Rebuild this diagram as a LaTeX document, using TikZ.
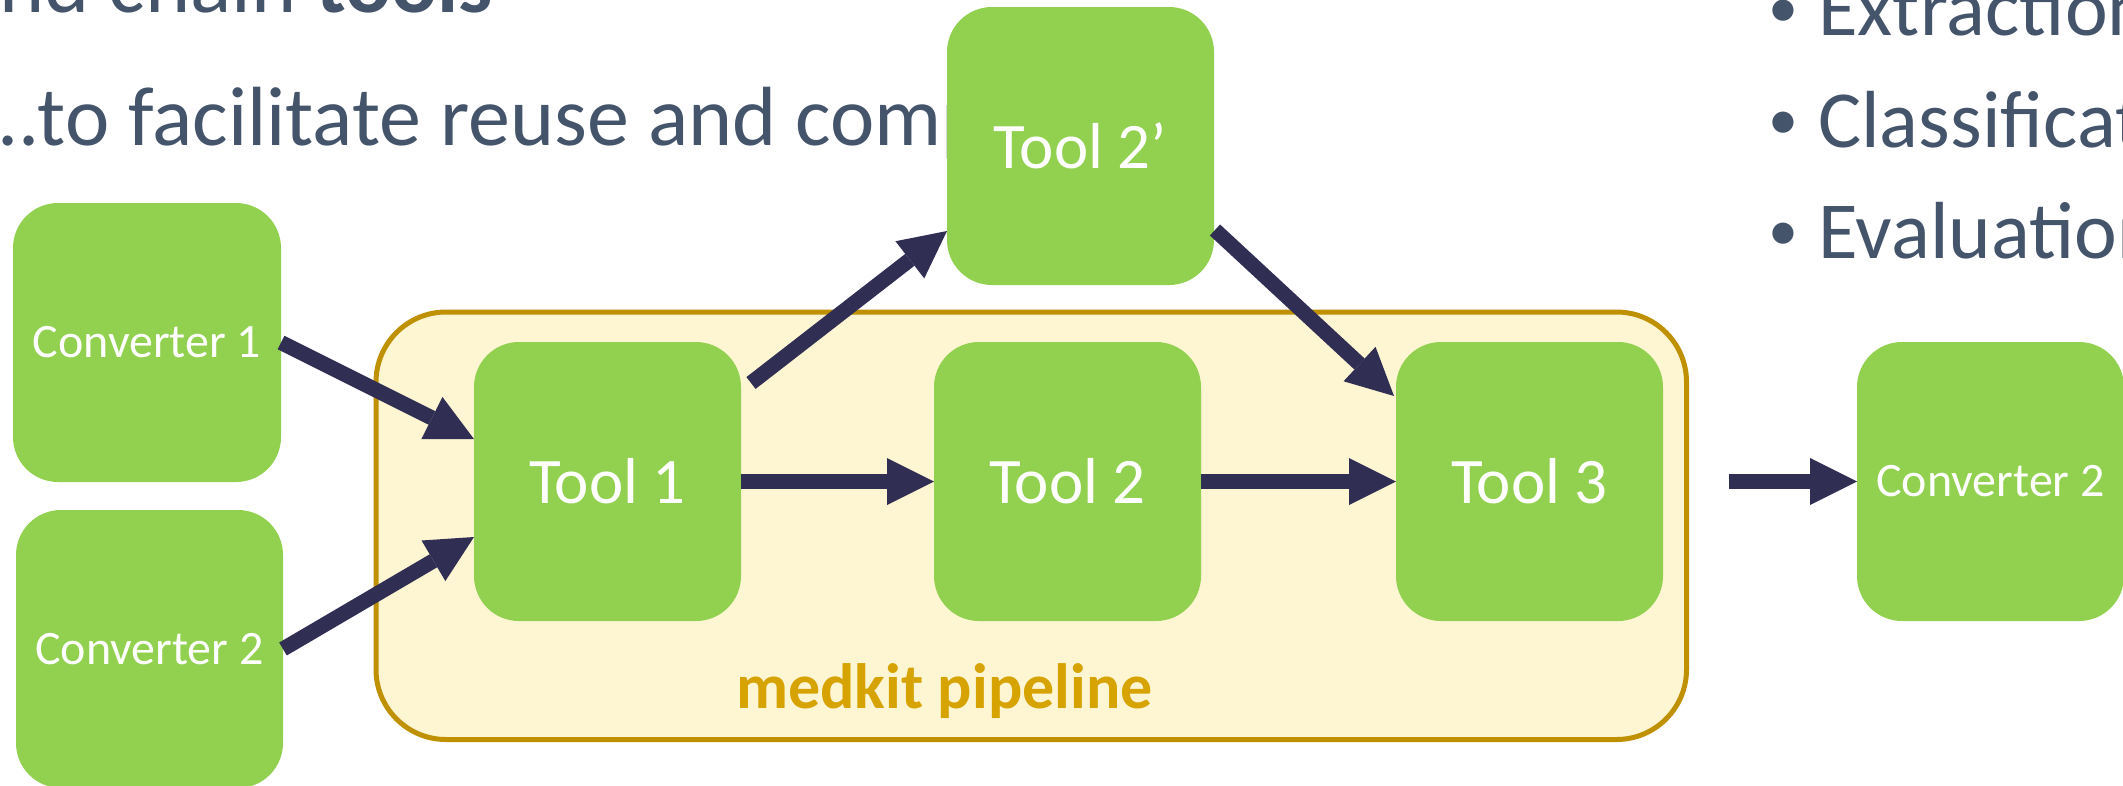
\documentclass[tikz,border=0pt]{standalone}
\usepackage{fontspec}
\setmainfont{Carlito}
\usetikzlibrary{arrows.meta,calc}
\definecolor{textblue}{HTML}{44546A}
\definecolor{boxgreen}{HTML}{92D050}
\definecolor{navy}{HTML}{312E54}
\definecolor{pipefill}{HTML}{FEF5D3}
\definecolor{pipeborder}{HTML}{BF9000}
\definecolor{pipelabel}{HTML}{D6A300}
\begin{document}
\begin{tikzpicture}[x=1pt,y=-1pt,
  bigtext/.style={anchor=base west,inner sep=0pt,text=textblue,font=\fontsize{81pt}{97pt}\selectfont},
  bullet/.style={anchor=base,inner sep=0pt,text=textblue,font=\fontsize{60pt}{72pt}\selectfont},
  gbox/.style={fill=boxgreen,draw=none,rounded corners=45pt,minimum width=267pt,minimum height=279pt,inner sep=0pt,outer sep=0pt,text=white},
  toolbox/.style={gbox,font=\fontsize{65pt}{78pt}\selectfont},
  convbox/.style={gbox,font=\fontsize{48pt}{58pt}\selectfont},
  container/.style={fill=pipefill,draw=pipeborder,line width=5pt,rounded corners=70pt,inner sep=0pt,outer sep=0pt},
  flow/.style={draw=navy,line width=15pt,-{Triangle[length=47pt,width=47pt,line width=0pt]}}]
\useasboundingbox (0,0) rectangle (2123,785);
\clip (0,0) rectangle (2123,785);
\fill[white] (0,0) rectangle (2123,785);

% background text
\node[bigtext,font=\fontsize{86pt}{103pt}\selectfont] (title) at (-1,12) {nd chain \textbf{tools}};
\node[bigtext,font=\fontsize{84pt}{100pt}\selectfont] (sub) at (-3,145) {..to facilitate reuse and composition};
\node[bullet] (b1) at (1783,27) {•};
\node[bigtext] (l1) at (1818,35) {Extraction};
\node[bullet] (b2) at (1783,139) {•};
\node[bigtext] (l2) at (1818,147) {Classification};
\node[bullet] (b3) at (1783,250) {•};
\node[bigtext] (l3) at (1818,258) {Evaluation};

% pipeline container
\node[container,minimum width=1310.5pt,minimum height=427.5pt] (pipe) at (1031.25,525.75) {};
\node[anchor=base west,inner sep=0pt,text=pipelabel,font=\fontsize{64pt}{77pt}\selectfont\bfseries] (pipelabel) at (736,708) {medkit pipeline};

% boxes
\node[convbox,minimum width=268pt] (conv1) at (147,342.5) {Converter 1};
\node[convbox,minimum height=278pt] (conv2) at (149.5,649) {Converter 2};
\node[toolbox] (tool1) at (607.5,481.5) {Tool 1};
\node[toolbox] (tool2) at (1067.5,481.5) {Tool 2};
\node[toolbox] (tool3) at (1529.5,481.5) {Tool 3};
\node[convbox] (conv3) at (1990.5,481.5) {Converter 2};
\node[toolbox,minimum height=278pt] (tool2p) at (1080.5,146) {Tool 2’};

% connectors
\coordinate (outstart) at (1729,481.5);
\draw[flow] (conv1.east) -- ($(tool1.west)+(0,-42.5)$);
\draw[flow] (conv2.east) -- ($(tool1.west)+(0,55.5)$);
\draw[flow] ($(tool1.north east)+(10,41)$) -- ($(tool2p.south west)+(0,-54)$);
\draw[flow] ($(tool2p.south east)+(1,-55)$) -- ($(tool3.north west)+(-2,54)$);
\draw[flow] (tool1.east) -- (tool2.west);
\draw[flow] (tool2.east) -- (tool3.west);
\draw[flow] (outstart) -- (conv3.west);
\end{tikzpicture}
\end{document}
